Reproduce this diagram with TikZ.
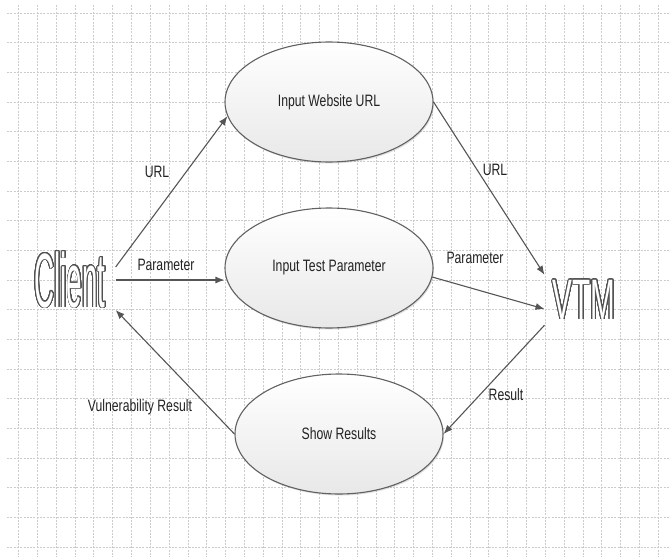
\documentclass[tikz,border=0pt]{standalone}
\usepackage{fontspec}
\setmainfont{Liberation Sans}
\newfontfamily\labelfont[FakeStretch=0.74]{Liberation Sans}
\newfontfamily\clientfont[FakeStretch=0.36]{Liberation Sans}
\newfontfamily\vtmfont[FakeStretch=0.52]{Liberation Sans}
\usepackage{contour}
\contourlength{0.75pt}
\contournumber{32}
\usetikzlibrary{shapes.geometric,arrows.meta,shadows}

\definecolor{edgegray}{HTML}{555555}
\definecolor{gridgray}{HTML}{CCCCCC}
\definecolor{outlinegray}{HTML}{505050}
\definecolor{textdark}{HTML}{222222}

\tikzset{
  gridline/.style={draw=gridgray, line width=0.55pt, dash pattern=on 2pt off 1.3pt},
  usecase/.style={ellipse, draw=black!62, line width=1.1pt, top color=white,
    bottom color=black!9, minimum width=208pt, minimum height=120pt, inner sep=0pt,
    drop shadow={shadow xshift=1pt, shadow yshift=-1.5pt, opacity=0.25},
    font=\labelfont\fontsize{16.5}{18}\selectfont, text=textdark},
  lbl/.style={font=\labelfont\fontsize{16.5}{18}\selectfont, text=textdark, inner sep=1pt},
  flow/.style={draw=edgegray, line width=1.1pt, -{Latex[length=9pt,width=7pt]}}
}

\begin{document}
\begin{tikzpicture}[x=1pt, y=-1pt]
  \useasboundingbox (0,0) rectangle (670,557);
  \fill[white] (0,0) rectangle (670,557);

  % background grid
  \foreach \k in {0,...,34}
    \draw[gridline] ({18.5+18.81*\k},5) -- ({18.5+18.81*\k},557);
  \foreach \k in {0,...,18}
    \draw[gridline] (7,{13+29.67*\k}) -- (670,{13+29.67*\k});

  % actors
  \node[inner xsep=10pt, inner ysep=0pt] (client) at (70,280)
    {\clientfont\fontsize{77}{77}\selectfont\contour{outlinegray}{\textcolor{white}{Client}}};
  \node[inner xsep=8pt, inner ysep=5pt] (vtm) at (584,300)
    {\vtmfont\fontsize{57}{57}\selectfont\contour{outlinegray}{\textcolor{white}{VTM}}};

  % use cases
  \node[usecase] (e1) at (329,102) {Input Website URL};
  \node[usecase] (e2) at (329,268) {Input Test Parameter};
  \node[usecase] (e3) at (339,434) {Show Results};

  % connectors
  \draw[flow] ([yshift=13pt]client.east) -- (e1.188);
  \draw[flow] (client.east) -- (client.east -| e2.west);
  \draw[flow] (e3.west) -- ([yshift=-30pt]client.east);
  \draw[flow] (e1.east) -- (vtm.north west);
  \draw[flow] (e2.-5) -- ([yshift=-9pt]vtm.west);
  \draw[flow] (vtm.south west) -- (e3.east);

  % connector labels
  \node[lbl] (urlL)  at (157,172) {URL};
  \node[lbl] (parL)  at (166,265) {Parameter};
  \node[lbl] (vulnL) at (140,407) {Vulnerability Result};
  \node[lbl] (urlR)  at (495,170) {URL};
  \node[lbl] (parR)  at (475,258) {Parameter};
  \node[lbl] (resR)  at (506,395) {Result};
\end{tikzpicture}
\end{document}
